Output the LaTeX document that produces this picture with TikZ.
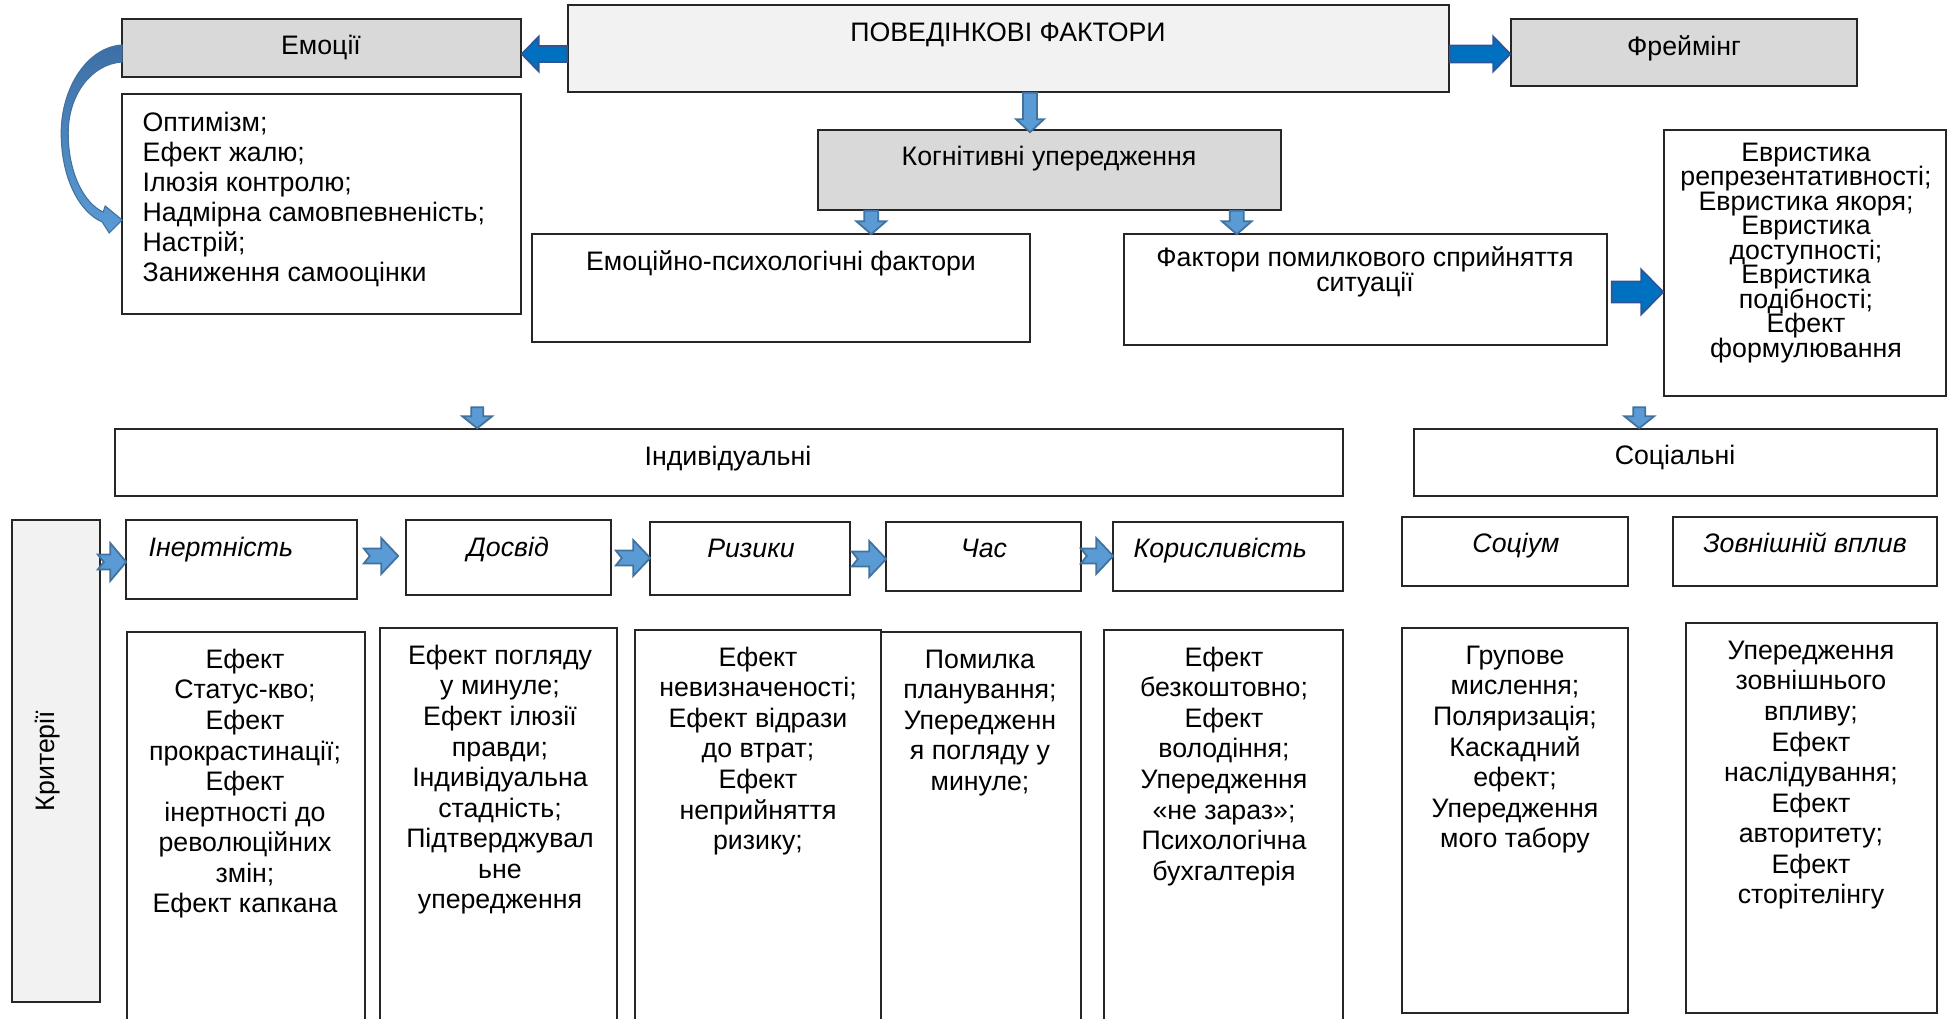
\documentclass[tikz,border=0pt]{standalone}
\usepackage{fontspec}
\setmainfont{Liberation Sans}
\usetikzlibrary{fit,calc}
\definecolor{gfill}{HTML}{D9D9D9}
\definecolor{lfill}{HTML}{F2F2F2}
\definecolor{bdark}{HTML}{0070C0}
\definecolor{bdarkline}{HTML}{2F5597}
\definecolor{blight}{HTML}{5B9BD5}
\definecolor{blightline}{HTML}{41719C}
\definecolor{bcurvetop}{HTML}{3D6FA6}
\definecolor{edgec}{HTML}{262626}
\newcommand\fst{\rule{0pt}{0.22cm}}
\newcommand\tightls{\lineskiplimit=-10pt\relax}
% right block arrow: style, tail, tip, shaft half, head half, head length
\newcommand\arrR[6]{\path[#1] ($(#2)+(0,-#4)$) -- ($(#3)+(-#6,-#4)$) -- ($(#3)+(-#6,-#5)$) -- (#3) -- ($(#3)+(-#6,#5)$) -- ($(#3)+(-#6,#4)$) -- ($(#2)+(0,#4)$) -- cycle;}
\newcommand\arrL[6]{\path[#1] ($(#2)+(0,-#4)$) -- ($(#3)+(#6,-#4)$) -- ($(#3)+(#6,-#5)$) -- (#3) -- ($(#3)+(#6,#5)$) -- ($(#3)+(#6,#4)$) -- ($(#2)+(0,#4)$) -- cycle;}
\newcommand\arrD[6]{\path[#1] ($(#2)+(-#4,0)$) -- ($(#3)+(-#4,-#6)$) -- ($(#3)+(-#5,-#6)$) -- (#3) -- ($(#3)+(#5,-#6)$) -- ($(#3)+(#4,-#6)$) -- ($(#2)+(#4,0)$) -- cycle;}
\newcommand\arrN[7]{\path[#1] ($(#2)+(0,-#4)$) -- ($(#3)+(-#6,-#4)$) -- ($(#3)+(-#6,-#5)$) -- (#3) -- ($(#3)+(-#6,#5)$) -- ($(#3)+(-#6,#4)$) -- ($(#2)+(0,#4)$) -- ($(#2)+(#7,0)$) -- cycle;}
\tikzset{
  box/.style={draw=edgec, line width=0.45pt, inner sep=0pt},
  t/.style={inner sep=0pt, font=\fontsize{7.6pt}{8.7pt}\selectfont},
  ti/.style={t, font=\fontsize{7.6pt}{8.7pt}\selectfont\itshape},
  tl/.style={t, align=center, anchor=north},
  bigarrow/.style={fill=bdark, draw=bdarkline, line width=0.5pt},
  smallarrow/.style={fill=blight, draw=blightline, line width=0.5pt},
  curvearrow/.style={top color=bcurvetop, bottom color=blight, draw=blightline, line width=0.3pt}
}
\begin{document}
\begin{tikzpicture}[x=0.01cm,y=-0.01cm]
\path[use as bounding box] (0,0) rectangle (1948,1019);
\clip (0,0) rectangle (1948,1019);
% boxes
\node[box, fit={(568,5) (1449,92)}, fill=lfill] (main) {};
\node[box, fit={(122,19) (521,77)}, fill=gfill] (emo) {};
\node[box, fit={(122,94) (521,314)}] (emolist) {};
\node[box, fit={(1511,19) (1857,86)}, fill=gfill] (frame) {};
\node[box, fit={(818,130) (1281,210)}, fill=gfill] (kog) {};
\node[box, fit={(532,234) (1030,342)}] (epf) {};
\node[box, fit={(1124,234) (1607,345)}] (fps) {};
\node[box, fit={(1664,130) (1946,396)}] (evr) {};
\node[box, fit={(115,429) (1343,496)}] (ind) {};
\node[box, fit={(1414,429) (1937,496)}] (soc) {};
\node[box, fit={(12,520) (100,1002)}, fill=lfill] (krit) {};
\node[box, fit={(126,520) (357,599)}] (inert) {};
\node[box, fit={(406,520) (611,595)}] (dosv) {};
\node[box, fit={(650,522) (850,595)}] (ryz) {};
\node[box, fit={(886,522) (1081,591)}] (chas) {};
\node[box, fit={(1113,522) (1343,591)}] (kor) {};
\node[box, fit={(1402,517) (1628,586)}] (socium) {};
\node[box, fit={(1673,517) (1937,586)}] (zovn) {};
\node[box, fit={(127,632) (365,1040)}] (inertL) {};
\node[box, fit={(380,628) (617,1040)}] (dosvL) {};
\node[box, fit={(635,630) (881,1040)}] (ryzL) {};
\node[box, fit={(881,632) (1081,1040)}] (chasL) {};
\node[box, fit={(1104,630) (1343,1040)}] (korL) {};
\node[box, fit={(1402,628) (1628,1013)}] (socL) {};
\node[box, fit={(1686,623) (1937,1013)}] (zovnL) {};
% texts
\node[t, anchor=base] (tMain) at (1008,42) {ПОВЕДІНКОВІ ФАКТОРИ};
\node[t, anchor=base] (tEmo) at (321,55) {Емоції};
\node[t, anchor=base] (tFr) at (1684,56) {Фреймінг};
\node[t, anchor=base] (tKog) at (1049,166) {Когнітивні упередження};
\node[t, align=left, anchor=north west, font=\fontsize{7.6pt}{8.54pt}\selectfont] (tEmoL) at (142,108.5) {\fst Оптимізм;\\Ефект жалю;\\Ілюзія контролю;\\Надмірна самовпевненість;\\Настрій;\\Заниження самооцінки};
\node[t, anchor=base] (tEpf) at (781,271) {Емоційно-психологічні фактори};
\node[tl, font=\fontsize{7.6pt}{7.1pt}\selectfont\tightls] (tFps) at (1365,243.5) {\fst Фактори помилкового сприйняття\\ситуації};
\node[tl, font=\fontsize{7.6pt}{6.97pt}\selectfont\tightls] (tEvr) at (1806,138.5) {\fst Евристика\\репрезентативності;\\Евристика якоря;\\Евристика\\доступності;\\Евристика\\подібності;\\Ефект\\формулювання};
\node[t, anchor=base] (tInd) at (728,466) {Індивідуальні};
\node[t, anchor=base] (tSoc) at (1675,465) {Соціальні};
\node[t, rotate=90] (tKrit) at (48,761) {Критерії};
\node[ti, anchor=base west] (tIn) at (148,557) {Інертність};
\node[ti, anchor=base] (tDo) at (508,557) {Досвід};
\node[ti, anchor=base] (tRy) at (751,558) {Ризики};
\node[ti, anchor=base] (tCh) at (984,558) {Час};
\node[ti, anchor=base west] (tKo) at (1133,558) {Корисливість};
\node[ti, anchor=base] (tSo) at (1516,553) {Соціум};
\node[ti, anchor=base] (tZo) at (1805,553) {Зовнішній вплив};
\node[tl] (tInL) at (245,645.5) {\fst Ефект\\Статус-кво;\\Ефект\\прокрастинації;\\Ефект\\інертності до\\революційних\\змін;\\Ефект капкана};
\node[tl] (tDoL) at (500,641.5) {\fst Ефект погляду\\у минуле;\\Ефект ілюзії\\правди;\\Індивідуальна\\стадність;\\Підтверджувал\\ьне\\упередження};
\node[tl] (tRyL) at (758,643.5) {\fst Ефект\\невизначеності;\\Ефект відрази\\до втрат;\\Ефект\\неприйняття\\ризику;};
\node[tl] (tChL) at (980,645.5) {\fst Помилка\\планування;\\Упередженн\\я погляду у\\минуле;};
\node[tl] (tKoL) at (1224,643.5) {\fst Ефект\\безкоштовно;\\Ефект\\володіння;\\Упередження\\«не зараз»;\\Психологічна\\бухгалтерія};
\node[tl] (tSoL) at (1515,641.5) {\fst Групове\\мислення;\\Поляризація;\\Каскадний\\ефект;\\Упередження\\мого табору};
\node[tl] (tZoL) at (1811,636.5) {\fst Упередження\\зовнішнього\\впливу;\\Ефект\\наслідування;\\Ефект\\авторитету;\\Ефект\\сторітелінгу};
% connector end points
\coordinate (aL1) at ($(main.west)+(0,5.5)$);
\coordinate (aL2) at (emo.east |- aL1);
\coordinate (aR1) at ($(main.east)+(0,5.5)$);
\coordinate (aR2) at (frame.west |- aR1);
\coordinate (aE1) at ($(fps.east)+(4,2.5)$);
\coordinate (aE2) at (evr.west |- aE1);
\coordinate (d1) at ($(main.south)+(21.5,0)$);
\coordinate (d2) at ($(d1 |- kog.north)+(0,3)$);
\coordinate (d3) at ($(kog.south west)+(54,0)$);
\coordinate (d4) at ($(d3 |- epf.north)+(0,1)$);
\coordinate (d5) at ($(kog.south east)+(-45,0)$);
\coordinate (d6) at ($(d5 |- fps.north)+(0,1)$);
\coordinate (d7) at ($(ind.north west)+(363,-21)$);
\coordinate (d8) at (d7 |- ind.north);
\coordinate (d9) at ($(soc.north west)+(226,-21)$);
\coordinate (d10) at (d9 |- soc.north);
\coordinate (n1a) at ($(krit.east)+(-3,-199)$);
\coordinate (n1b) at ($(inert.west |- n1a)+(1,0)$);
\coordinate (n2a) at ($(inert.east)+(6,-3.5)$);
\coordinate (n2b) at ($(dosv.west |- n2a)+(-7,0)$);
\coordinate (n3a) at ($(dosv.east)+(4,0.5)$);
\coordinate (n3b) at ($(ryz.west |- n3a)+(1,0)$);
\coordinate (n4a) at ($(ryz.east)+(1,0.5)$);
\coordinate (n4b) at ($(chas.west |- n4a)+(1,0)$);
\coordinate (n5a) at ($(chas.east)+(-1,-0.5)$);
\coordinate (n5b) at ($(kor.west |- n5a)+(1,0)$);
% connectors
\arrL{bigarrow}{aL1}{aL2}{8}{17.5}{17}
\arrR{bigarrow}{aR1}{aR2}{8.5}{17.5}{17}
\arrR{bigarrow}{aE1}{aE2}{10.5}{22.5}{22}
\arrD{smallarrow}{d1}{d2}{7}{14}{13}
\arrD{smallarrow}{d3}{d4}{7}{15}{13}
\arrD{smallarrow}{d5}{d6}{7}{15}{13}
\arrD{smallarrow}{d7}{d8}{6}{15}{12}
\arrD{smallarrow}{d9}{d10}{6}{15}{12}
\arrN{smallarrow}{n1a}{n1b}{7.5}{19}{16}{6}
\arrN{smallarrow}{n2a}{n2b}{7.5}{18}{17}{6}
\arrN{smallarrow}{n3a}{n3b}{7.5}{18}{17}{6}
\arrN{smallarrow}{n4a}{n4b}{7.5}{18}{17}{6}
\arrN{smallarrow}{n5a}{n5b}{7.5}{18}{17}{6}
% curved arrow from Емоції to its list
\coordinate (c1) at ($(emo.west)+(1,-3)$);
\coordinate (c2) at ($(emolist.west)+(1,16)$);
\path[curvearrow] (c1) .. controls ($(c1)+(-35,2)$) and ($(c1)+(-61,43)$) .. ($(c1)+(-61,88)$)
  .. controls ($(c1)+(-61,133)$) and ($(c1)+(-43,167)$) .. ($(c2)+(-20,2)$)
  -- ($(c2)+(-13,13)$) -- (c2) -- ($(c2)+(-17,-14)$) -- ($(c2)+(-19,-8)$)
  .. controls ($(c1)+(-37,159)$) and ($(c1)+(-54,130)$) .. ($(c1)+(-54,88)$)
  .. controls ($(c1)+(-54,50)$) and ($(c1)+(-31,19)$) .. ($(c1)+(0,17)$) -- cycle;
\end{tikzpicture}
\end{document}
